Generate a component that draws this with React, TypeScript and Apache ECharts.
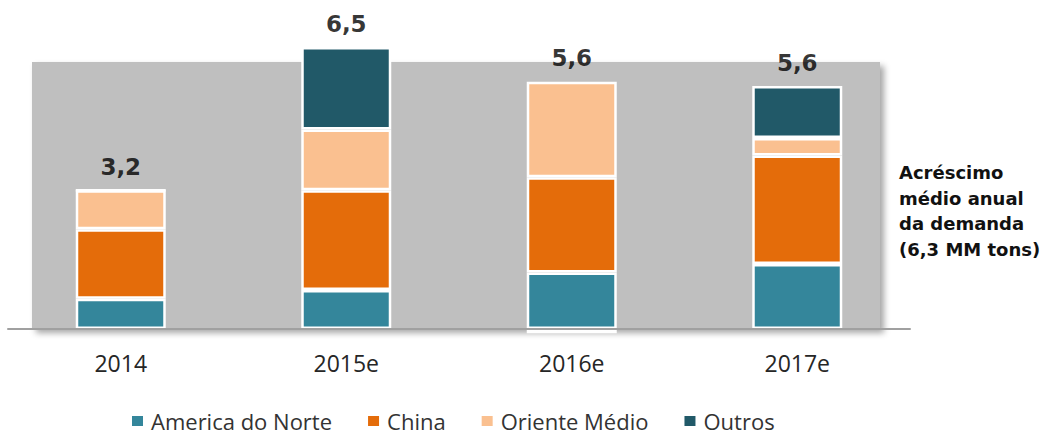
import React, { useEffect, useRef } from "react";
import * as echarts from "echarts";

const categories = ["2014", "2015e", "2016e", "2017e"];
const americaDoNorte = [0.7, 0.9, 1.3, 1.5];
const china = [1.6, 2.3, 2.2, 2.5];
const orienteMedio = [0.9, 1.4, 2.2, 0.4];
const outros = [0, 1.9, -0.1, 1.2];
const totalLabels = ["3,2", "6,5", "5,6", "5,6"];
const sideNote = ["Acréscimo", "médio anual", "da demanda", "(6,3 MM tons)"];

const seriesDefs = [
  { name: "America do Norte", data: americaDoNorte, color: "#34869B" },
  { name: "China", data: china, color: "#E46C0A" },
  { name: "Oriente Médio", data: orienteMedio, color: "#FAC090" },
  { name: "Outros", data: outros, color: "#215968" },
];

export default function App() {
  const ref = useRef<HTMLDivElement>(null);
  useEffect(() => {
    if (!ref.current) return;
    const chart = echarts.init(ref.current, null, { renderer: "svg" });
    const posTops = categories.map((_, i) =>
      seriesDefs.reduce((s, d) => s + Math.max(0, d.data[i]), 0)
    );
    const option: any = {
      animation: false,
      textStyle: { fontFamily: "Open Sans" },
      grid: { left: 8, right: 130, top: 47, bottom: 108, containLabel: false },
      graphic: [
        {
          type: "rect",
          z: 0,
          shape: { x: 32, y: 62, width: 848, height: 267 },
          style: {
            fill: "#bfbfbf",
            shadowBlur: 6,
            shadowOffsetX: 4,
            shadowOffsetY: 4,
            shadowColor: "rgba(0,0,0,0.35)",
          },
        },
        {
          type: "text",
          left: 899,
          top: 160,
          style: {
            text: sideNote.join("\n"),
            font: "bold 18px 'DejaVu Sans'",
            fill: "#111",
            lineHeight: 25.5,
          },
        },
      ],
      legend: {
        left: 130,
        top: 410,
        padding: 0,
        icon: "rect",
        itemWidth: 13,
        itemHeight: 12,
        itemGap: 34,
        textStyle: {
          fontSize: 22,
          lineHeight: 22,
          color: "#333",
          fontFamily: "Open Sans",
          padding: [0, 0, 0, 2],
        },
        data: seriesDefs.map((d) => d.name),
      },
      xAxis: {
        type: "category",
        data: categories,
        axisLine: { lineStyle: { color: "#a0a0a0", width: 2 } },
        axisTick: { show: false },
        axisLabel: { fontSize: 23, color: "#262626", margin: 22, fontFamily: "Open Sans" },
        z: 5,
      },
      yAxis: { type: "value", min: 0, max: 6.5, show: false, splitLine: { show: false } },
      series: [
        ...seriesDefs.map((d) => ({
          name: d.name,
          type: "bar",
          stack: "total",
          barWidth: 90,
          clip: false,
          data: d.data,
          itemStyle: {
            color: d.color,
            borderColor: "#ffffff",
            borderWidth: 2.5,
          },
        })),
        {
          name: "totais",
          type: "scatter",
          symbolSize: 0,
          clip: false,
          data: posTops.map((v, i) => [categories[i], v]),
          label: {
            show: true,
            position: "top",
            distance: 12,
            formatter: (p: any) => totalLabels[p.dataIndex],
            fontSize: 23,
            fontWeight: "bold",
            fontFamily: "DejaVu Sans",
            color: "#000",
          },
        },
      ],
    };
    chart.setOption(option);
    return () => chart.dispose();
  }, []);
  return (
    <div
      ref={ref}
      style={{ position: "fixed", left: 0, top: 0, width: 1040, height: 437, background: "#fff" }}
    />
  );
}
